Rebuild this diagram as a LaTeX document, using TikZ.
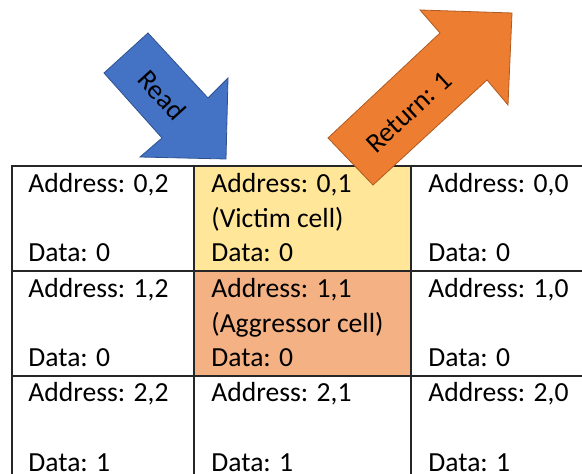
\documentclass[tikz,border=0pt]{standalone}
\usepackage{fontspec}
\setmainfont{Carlito}
\definecolor{readblue}{HTML}{4472C4}
\definecolor{readedge}{HTML}{2F528F}
\definecolor{retorange}{HTML}{ED7D31}
\definecolor{retedge}{HTML}{AE5A21}
\definecolor{victimfill}{HTML}{FFE699}
\definecolor{aggrfill}{HTML}{F4B183}
\definecolor{tablegray}{HTML}{262626}

\begin{document}
\begin{tikzpicture}[x=0.5pt, y=-0.5pt,
  every node/.style={font=\fontsize{13.8}{16}\selectfont, inner sep=0pt},
  celltext/.style={anchor=base west, text=black},
  tableline/.style={tablegray, line width=0.7pt}]

  \useasboundingbox (0,0) rectangle (582,474);

  % ---- Highlighted cells ----
  % victim cell (0,1) and aggressor cell (1,1)
  \fill[victimfill] (194,166) rectangle (411,271);
  \fill[aggrfill] (194,271) rectangle (411,376);

  % ---- Table rules ----
  \draw[tableline] (12,474) -- (12,166) -- (582,166);
  \draw[tableline] (12,271) -- (582,271);
  \draw[tableline] (12,376) -- (582,376);
  \draw[tableline] (194,166) -- (194,474);
  \draw[tableline] (411,166) -- (411,474);

  % ---- Row 0 ----
  \node[celltext] (a02) at (28,193) {Address: 0,2};
  \node[celltext] (d02) at (28,262) {Data: 0};
  \node[celltext] (a01) at (211,193) {Address: 0,1};
  \node[celltext] (v01) at (211,228) {(Victim cell)};
  \node[celltext] (d01) at (211,262) {Data: 0};
  \node[celltext] (a00) at (428,193) {Address: 0,0};
  \node[celltext] (d00) at (428,262) {Data: 0};

  % ---- Row 1 ----
  \node[celltext] (a12) at (28,298) {Address: 1,2};
  \node[celltext] (d12) at (28,367) {Data: 0};
  \node[celltext] (a11) at (211,298) {Address: 1,1};
  \node[celltext] (g11) at (211,333) {(Aggressor cell)};
  \node[celltext] (d11) at (211,367) {Data: 0};
  \node[celltext] (a10) at (428,298) {Address: 1,0};
  \node[celltext] (d10) at (428,367) {Data: 0};

  % ---- Row 2 ----
  \node[celltext] (a22) at (28,402) {Address: 2,2};
  \node[celltext] (d22) at (28,471) {Data: 1};
  \node[celltext] (a21) at (211,402) {Address: 2,1};
  \node[celltext] (d21) at (211,471) {Data: 1};
  \node[celltext] (a20) at (428,402) {Address: 2,0};
  \node[celltext] (d20) at (428,471) {Data: 1};

  % ---- Read arrow (into the victim cell) ----
  \draw[readedge, fill=readblue, line width=0.4pt]
    (104,73) -- (148,33) -- (208,98) -- (228,78) -- (226,159)
    -- (140,157) -- (162,138) -- cycle;
  \node[rotate=-47.8] (readlbl) at (162,95) {Read};

  % ---- Return arrow ----
  \draw[retedge, fill=retorange, line width=0.4pt]
    (328,138) -- (440,33) -- (420,10) -- (512,13) -- (508,105)
    -- (487,80) -- (373,185) -- cycle;
  \node[rotate=42.6] (retlbl) at (409,112) {Return: 1};

\end{tikzpicture}
\end{document}
